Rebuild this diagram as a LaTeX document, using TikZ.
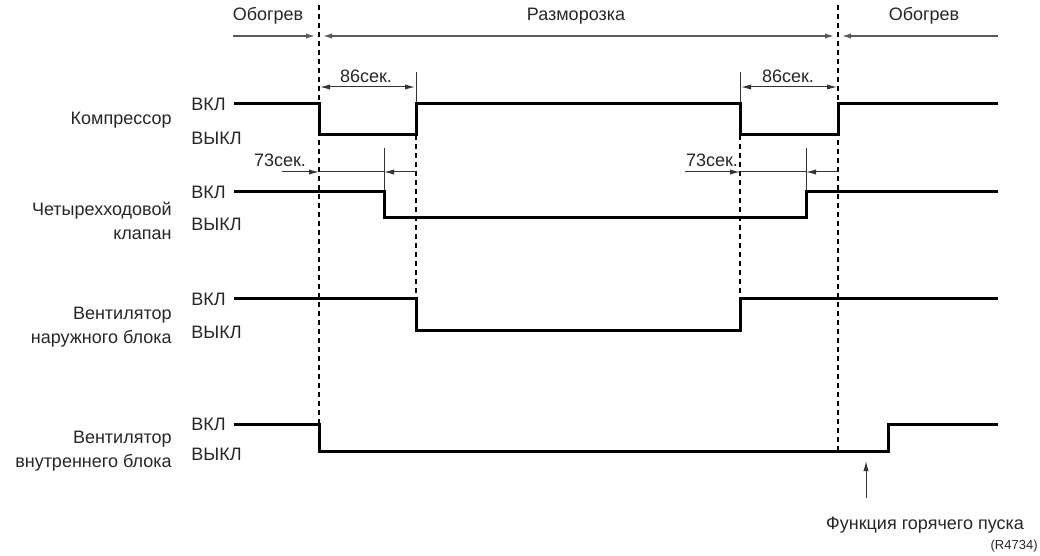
\documentclass[tikz,border=0pt]{standalone}
\usepackage{fontspec}
\setmainfont{Liberation Sans}
\usetikzlibrary{arrows.meta}

\tikzset{
  signal/.style={line width=1.5pt, line join=miter},
  guide/.style={line width=0.6pt, dash pattern=on 2.5pt off 2pt},
  dim/.style={line width=0.5pt, color=black!80, >={Latex[length=5pt,width=2.6pt]}},
  phase/.style={dim, line width=0.9pt, color=black!65},
  lbl/.style={font=\fontsize{9}{12}\selectfont, inner sep=0pt, text=black!85},
}

\begin{document}
\begin{tikzpicture}[x=0.5pt,y=-0.5pt]
   \useasboundingbox (0,0) rectangle (1040,556);

   % phases
   \node[lbl] (heatA) at (268,16) {Обогрев};
   \node[lbl] (defrost) at (576,16) {Разморозка};
   \node[lbl] (heatB) at (924,16) {Обогрев};
   \draw[phase,->] (233,36) -- (316,36);
   \draw[phase,<->] (322,36) -- (835,36);
   \draw[phase,->] (998,36) -- (841,36);

   % guide lines
   \draw[guide] (319,5) -- (319,451);
   \draw[guide] (838,5) -- (838,451);
   \draw[guide] (416,135) -- (416,298);
   \draw[guide] (740,135) -- (740,298);
   \draw[dim] (416,72) -- (416,104);
   \draw[dim] (740,72) -- (740,104);

   % 86 sec
   \node[lbl] (tA) at (366,76) {86сек.};
   \node[lbl] (tB) at (788,76) {86сек.};
   \draw[dim,<->] (320,87) -- (415,87);
   \draw[dim,<->] (741,87) -- (837,87);

   % 73 sec
   \node[lbl] (tC) at (280,160) {73сек.};
   \node[lbl] (tD) at (712,160) {73сек.};
   \draw[dim] (384,148) -- (384,192);
   \draw[dim] (806,148) -- (806,192);
   \draw[dim,->] (282,172) -- (319,172);
   \draw[dim] (319,172) -- (384,172);
   \draw[dim,->] (416,172) -- (384,172);
   \draw[dim,->] (685,172) -- (740,172);
   \draw[dim] (740,172) -- (806,172);
   \draw[dim,->] (838,172) -- (806,172);

   % compressor
   \node[lbl,anchor=east] (comp) at (172,120) {Компрессор};
   \node[lbl,anchor=west] (compOn) at (191,104) {ВКЛ};
   \node[lbl,anchor=west] (compOff) at (191,138) {ВЫКЛ};
   \draw[signal] (234,104) -- (319,104) -- (319,135) -- (416,135) -- (416,104)
      -- (740,104) -- (740,135) -- (838,135) -- (838,104) -- (998,104);

   % four-way valve
   \node[lbl,anchor=east,align=right] (valve) at (172,221) {Четырехходовой\\клапан};
   \node[lbl,anchor=west] (valveOn) at (191,192) {ВКЛ};
   \node[lbl,anchor=west] (valveOff) at (191,224) {ВЫКЛ};
   \draw[signal] (234,192) -- (384,192) -- (384,218) -- (806,218) -- (806,192) -- (998,192);

   % outdoor fan
   \node[lbl,anchor=east,align=right] (fanOut) at (172,327) {Вентилятор\\наружного блока};
   \node[lbl,anchor=west] (fanOutOn) at (191,299) {ВКЛ};
   \node[lbl,anchor=west] (fanOutOff) at (191,332) {ВЫКЛ};
   \draw[signal] (234,298) -- (416,298) -- (416,330) -- (740,330) -- (740,298) -- (998,298);

   % indoor fan
   \node[lbl,anchor=east,align=right] (fanIn) at (172,451) {Вентилятор\\внутреннего блока};
   \node[lbl,anchor=west] (fanInOn) at (191,424) {ВКЛ};
   \node[lbl,anchor=west] (fanInOff) at (191,454) {ВЫКЛ};
   \draw[signal] (234,424) -- (319,424) -- (319,451) -- (888,451) -- (888,424) -- (998,424);

   % hot start
   \node[lbl] (hotStart) at (925,525) {Функция горячего пуска};
   \node[lbl,anchor=east,font=\fontsize{6.5}{8}\selectfont] (ref) at (1038,546) {(R4734)};
   \coordinate (hsTip) at (866,461);
   \draw[dim,->] (866,498) -- (hsTip);

\end{tikzpicture}
\end{document}
